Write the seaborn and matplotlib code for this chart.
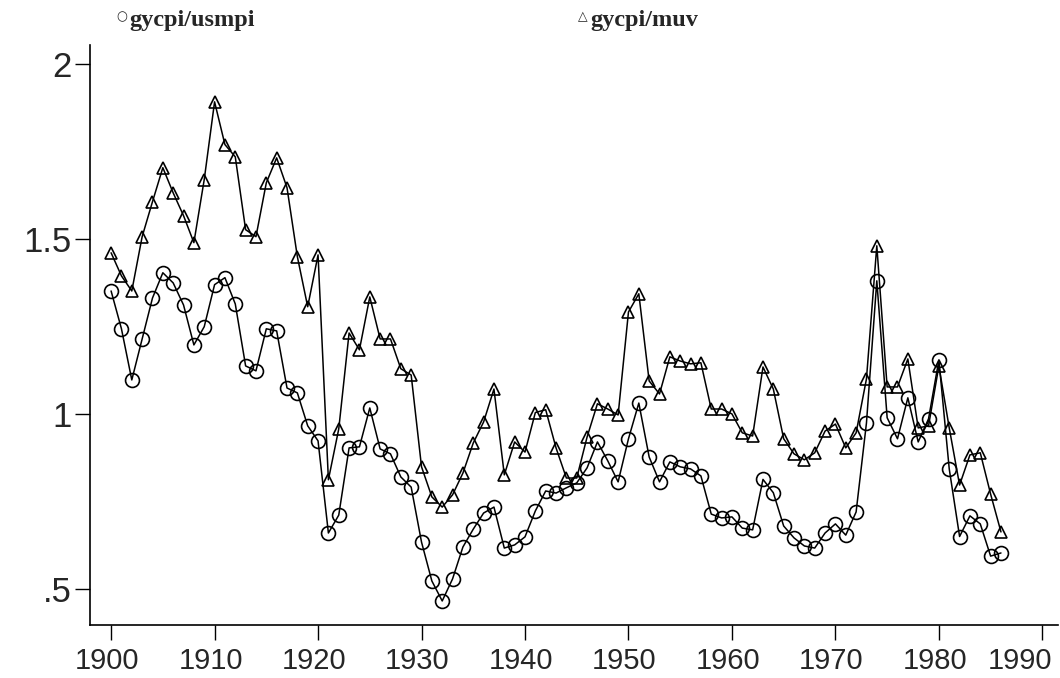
import numpy as np
import pandas as pd
import seaborn as sns
import matplotlib
matplotlib.use("Agg")
import matplotlib.pyplot as plt
from matplotlib.transforms import ScaledTranslation

years = list(range(1900, 1987))

# gycpi/usmpi (circles)
usmpi = [1.351, 1.243, 1.097, 1.214, 1.331, 1.403, 1.374, 1.311, 1.197, 1.249,
         1.369, 1.389, 1.314, 1.137, 1.123, 1.243, 1.237, 1.074, 1.060, 0.966,
         0.923, 0.660, 0.711, 0.903, 0.906, 1.017, 0.900, 0.886, 0.820, 0.791,
         0.634, 0.523, 0.466, 0.529, 0.620, 0.671, 0.717, 0.734, 0.617, 0.626,
         0.649, 0.723, 0.780, 0.774, 0.789, 0.803, 0.846, 0.920, 0.866, 0.806,
         0.929, 1.031, 0.877, 0.806, 0.863, 0.849, 0.843, 0.823, 0.714, 0.703,
         0.706, 0.674, 0.669, 0.813, 0.775, 0.680, 0.646, 0.623, 0.617, 0.660,
         0.686, 0.654, 0.720, 0.974, 1.380, 0.989, 0.929, 1.046, 0.920, 0.986,
         1.154, 0.843, 0.650, 0.709, 0.686, 0.594, 0.603]

# gycpi/muv (triangles)
muv = [1.460, 1.394, 1.351, 1.506, 1.606, 1.703, 1.631, 1.566, 1.489, 1.669,
       1.891, 1.769, 1.734, 1.526, 1.506, 1.660, 1.731, 1.646, 1.449, 1.306,
       1.454, 0.812, 0.957, 1.231, 1.183, 1.334, 1.214, 1.214, 1.129, 1.111,
       0.849, 0.763, 0.734, 0.769, 0.831, 0.917, 0.977, 1.071, 0.826, 0.920,
       0.891, 1.004, 1.012, 0.903, 0.817, 0.817, 0.934, 1.029, 1.014, 0.997,
       1.291, 1.343, 1.094, 1.057, 1.163, 1.151, 1.143, 1.146, 1.014, 1.014,
       1.000, 0.946, 0.937, 1.134, 1.071, 0.929, 0.886, 0.869, 0.889, 0.951,
       0.971, 0.903, 0.946, 1.100, 1.480, 1.077, 1.077, 1.157, 0.960, 0.966,
       1.137, 0.960, 0.797, 0.883, 0.889, 0.771, 0.663]

ytick_vals = [0.5, 1, 1.5, 2]
ytick_labels = [".5", "1", "1.5", "2"]
xtick_vals = list(range(1900, 2000, 10))

df = pd.DataFrame({"year": years, "usmpi": usmpi, "muv": muv})

sns.set_style("ticks")
fig = plt.figure(figsize=(10.6, 6.78), dpi=100)
ax = fig.add_axes([0.085, 0.078, 0.913, 0.856])

sns.lineplot(data=df, x="year", y="muv", ax=ax, color="black", lw=1.1,
             marker="^", markersize=9, markerfacecolor="none",
             markeredgecolor="black", markeredgewidth=1.2)
sns.lineplot(data=df, x="year", y="usmpi", ax=ax, color="black", lw=1.1,
             marker="o", markersize=10, markerfacecolor="none",
             markeredgecolor="black", markeredgewidth=1.2)

ax.set_xlim(1897.97, 1991.5)
ax.set_ylim(0.397, 2.054)
ax.set_xticks(xtick_vals)
ax.set_yticks(ytick_vals)
ax.set_yticklabels(ytick_labels)
ax.set_xlabel("")
ax.set_ylabel("")
ax.tick_params(axis="both", length=11, width=1, color="black", direction="out")
ax.tick_params(axis="x", labelsize=21, pad=5)
ax.tick_params(axis="y", labelsize=25, pad=2)
for lab in ax.get_xticklabels() + ax.get_yticklabels():
    lab.set_fontfamily("Liberation Sans")
sns.despine(ax=ax)
for s in ["left", "bottom"]:
    ax.spines[s].set_linewidth(1.2)
    ax.spines[s].set_color("black")

# labels sit a little left of their ticks, the last one well left
xlabs = ax.get_xticklabels()
for i, lab in enumerate(xlabs):
    dx = -22 if i == len(xlabs) - 1 else -4
    lab.set_transform(lab.get_transform() + ScaledTranslation(dx / 100, 0, fig.dpi_scale_trans))

fig.text(0.110, 0.975, "○", fontsize=9, family="DejaVu Sans", va="center")
fig.text(0.122, 0.970, "gycpi/usmpi", fontsize=17.5, family="Liberation Serif",
         weight="bold", va="center")
fig.text(0.545, 0.975, "△", fontsize=9, family="DejaVu Sans", va="center")
fig.text(0.557, 0.970, "gycpi/muv", fontsize=17.5, family="Liberation Serif",
         weight="bold", va="center")

fig.savefig("out.png", dpi=100)
